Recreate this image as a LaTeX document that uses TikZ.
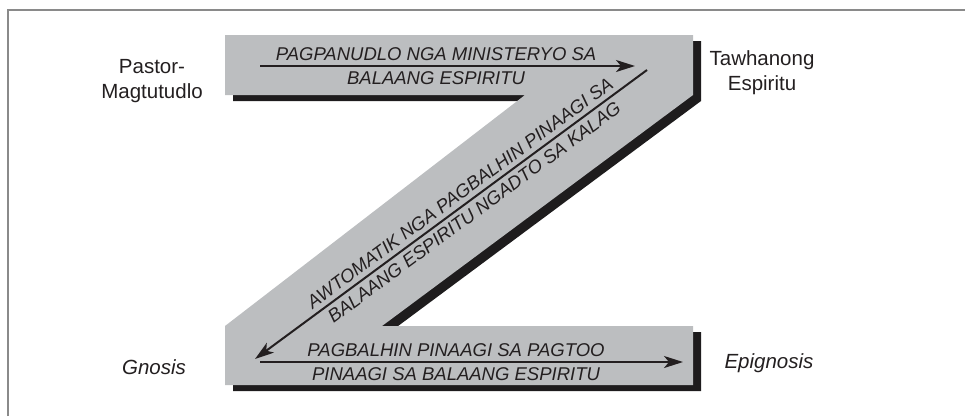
\documentclass[tikz,border=0pt]{standalone}
\usepackage{fontspec}
\setmainfont{Liberation Sans}
\usetikzlibrary{arrows.meta}
\definecolor{zgray}{HTML}{BCBEC0}
\definecolor{shadowblack}{HTML}{1E1C1D}
\definecolor{inkdark}{HTML}{231F20}
\definecolor{framegray}{HTML}{8A8A8A}

\begin{document}
\begin{tikzpicture}[
    x=1pt, y=-1pt,
    >={Stealth[length=19pt, width=12pt, inset=5pt]},
    sidelabel/.style={font=\fontsize{20.5}{25}\selectfont, text=inkdark, align=center, inner sep=0pt},
    flowtext/.style={font=\fontsize{18.5}{24}\selectfont\itshape, text=inkdark, align=center, inner sep=0pt},
    arr/.style={->, line width=2pt, draw=inkdark},
]
\useasboundingbox (0,0) rectangle (965,416);

% Frame
\draw[framegray, line width=1.5pt] (8,416) -- (8,10) -- (965,10);

% Z band: shadow first, then grey band
\foreach \bandcol/\dx/\dy in {shadowblack/8/6, zgray/0/0}
  \fill[\bandcol, shift={(\dx,\dy)}] (225,35) -- (693,35) -- (693,95) -- (382,326)
    -- (693,326) -- (693,385) -- (225,385) -- (225,326) -- (525,95) -- (225,95) -- cycle;

% Arrow ends
\coordinate (topstart) at (260,66);
\coordinate (topend) at (635,66);
\coordinate (diagstart) at (647,70);
\coordinate (diagend) at (255,359);
\coordinate (botstart) at (260,362);
\coordinate (botend) at (683,362);

% Arrows
\draw[arr] (topstart) -- (topend);
\draw[arr] (diagstart) -- (diagend);
\draw[arr] (botstart) -- (botend);

% Texts on the band
\node[flowtext] (toptext) at (436,66.4) {PAGPANUDLO NGA MINISTERYO SA\\BALAANG ESPIRITU};
\node[flowtext, rotate=36.4] (diagtext) at (467,202.6) {AWTOMATIK NGA PAGBALHIN PINAAGI SA\\BALAANG ESPIRITU NGADTO SA KALAG};
\node[flowtext] (bottext) at (456,362.4) {PAGBALHIN PINAAGI SA PAGTOO\\PINAAGI SA BALAANG ESPIRITU};

% Side labels
\node[sidelabel] (pastor) at (152,81) {Pastor-\\Magtutudlo};
\node[sidelabel] (tawhanong) at (762,73) {Tawhanong\\Espiritu};
\node[sidelabel, anchor=base] (gnosis) at (154,374) {\itshape Gnosis};
\node[sidelabel, anchor=base] (epignosis) at (769,368) {\itshape Epignosis};

\end{tikzpicture}
\end{document}
